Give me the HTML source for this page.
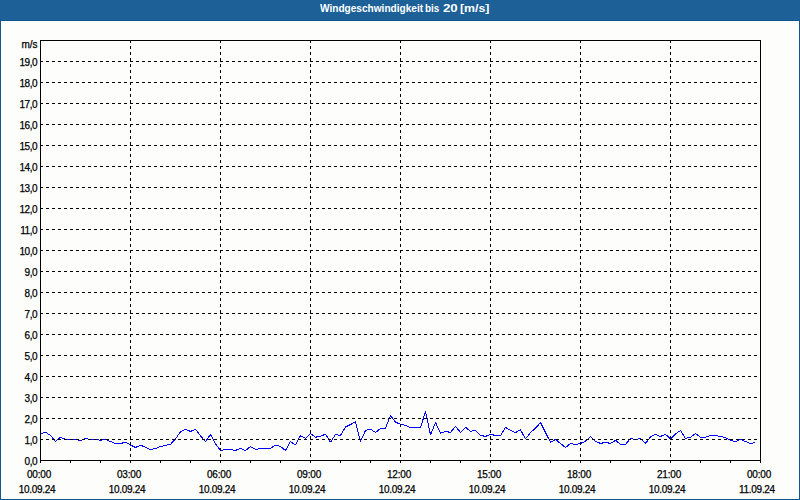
<!DOCTYPE html>
<html><head><meta charset="utf-8"><title>Windgeschwindigkeit</title>
<style>
html,body{margin:0;padding:0;}
body{width:800px;height:500px;overflow:hidden;background:#11558e;font-family:"Liberation Sans",sans-serif;position:relative;}
#hdr{position:absolute;left:0;top:0;width:800px;height:20px;background:#1d6097;}
.tw{position:absolute;top:1px;transform-origin:0 0;color:#fff;font-weight:bold;font-size:11px;line-height:14px;white-space:nowrap;}
#panel{position:absolute;left:1px;top:21px;width:798px;height:478px;background:#fdfefc;}
svg{position:absolute;left:0;top:0;}
.yl,.xl{-webkit-text-stroke:0.25px #000;}
.yl{position:absolute;left:0;width:37px;text-align:right;font-size:10px;line-height:12px;color:#000;white-space:nowrap;letter-spacing:-0.5px;}
.xl{position:absolute;width:60px;text-align:center;font-size:10px;line-height:12px;color:#000;white-space:nowrap;letter-spacing:-0.2px;}
.xd{letter-spacing:-0.3px;}
</style></head><body>
<svg width="800" height="20" viewBox="0 0 800 20" shape-rendering="crispEdges"><defs><pattern id="d" width="4" height="4" patternUnits="userSpaceOnUse"><rect width="4" height="4" fill="#1c6096"/><rect x="0" y="0" width="1" height="1" fill="#1e63a8"/><rect x="2" y="2" width="1" height="1" fill="#1e63a8"/></pattern></defs><rect width="800" height="20" fill="url(#d)"/></svg>
<div class="tw" style="left:319.5px;transform:scaleX(0.918)">Windgeschwindigkeit</div>
<div class="tw" style="left:424.8px;transform:scaleX(0.9)">bis</div>
<div class="tw" style="left:442.5px;transform:scaleX(1.2)">20</div>
<div class="tw" style="left:460px;transform:scaleX(1.12)">[m/s]</div>
<div id="panel"></div>
<svg width="800" height="500" viewBox="0 0 800 500" shape-rendering="crispEdges">
<polyline fill="none" stroke="#0000ff" stroke-width="1" stroke-linejoin="bevel" points="40.5,433.7 45.5,432.2 50.5,435.5 55.5,441.5 60.5,437.2 65.5,439.5 70.5,439.5 75.5,439.5 80.5,440.5 85.5,438.5 90.5,439.5 95.5,439.5 100.5,440.3 105.5,439.5 110.5,441.5 115.5,443.5 120.5,443.5 125.5,442.3 130.5,445.0 135.5,447.5 140.5,445.2 145.5,447.3 150.5,449.7 155.5,448.5 160.5,446.5 165.5,445.4 170.5,444.3 175.5,439.0 180.5,431.7 185.5,429.2 190.5,431.5 195.5,429.2 200.5,436.0 205.5,441.5 210.5,434.5 215.5,443.8 220.5,450.5 225.5,449.5 230.5,449.5 235.5,450.5 240.5,448.3 245.5,450.5 250.5,446.5 255.5,449.5 260.5,448.5 265.5,448.4 270.5,448.3 275.5,445.2 280.5,446.4 285.5,450.5 290.5,441.5 295.5,445.0 300.5,435.5 305.5,438.5 310.5,433.7 315.5,437.2 320.5,436.2 325.5,434.2 330.5,442.2 335.5,434.5 340.5,435.5 345.5,427.0 350.5,424.5 355.5,421.8 360.5,441.5 365.5,430.5 370.5,429.2 375.5,432.5 380.5,428.5 385.5,428.3 390.5,415.5 395.5,422.2 400.5,424.3 405.5,425.3 410.5,427.5 415.5,427.5 420.5,427.5 425.5,411.5 430.5,434.8 435.5,422.5 440.5,433.3 445.5,431.3 450.5,432.5 455.5,426.2 460.5,432.5 465.5,427.3 470.5,431.3 475.5,430.3 480.5,435.3 485.5,436.5 490.5,434.3 495.5,435.5 500.5,435.5 505.5,427.5 510.5,430.3 515.5,432.5 520.5,429.8 525.5,439.0 530.5,432.5 535.5,428.3 540.5,422.5 545.5,432.5 550.5,442.2 555.5,439.5 560.5,443.5 565.5,447.5 570.5,443.5 575.5,444.5 580.5,443.5 585.5,441.2 590.5,436.5 595.5,441.2 600.5,443.5 605.5,442.3 610.5,443.5 615.5,440.3 620.5,444.5 625.5,444.5 630.5,438.5 635.5,439.5 640.5,438.5 645.5,443.3 650.5,437.0 655.5,434.3 660.5,436.5 665.5,434.3 670.5,439.0 675.5,434.0 680.5,430.5 685.5,438.5 690.5,437.2 695.5,433.5 700.5,437.2 705.5,437.2 710.5,435.5 715.5,435.5 720.5,436.5 725.5,437.5 730.5,440.5 735.5,441.5 740.5,439.5 745.5,441.5 750.5,443.5 755.5,442.5"/>
<g stroke="#000" stroke-width="1" stroke-dasharray="3 3" fill="none">
<line x1="40" y1="61.5" x2="760" y2="61.5"/>
<line x1="40" y1="82.5" x2="760" y2="82.5"/>
<line x1="40" y1="103.5" x2="760" y2="103.5"/>
<line x1="40" y1="124.5" x2="760" y2="124.5"/>
<line x1="40" y1="145.5" x2="760" y2="145.5"/>
<line x1="40" y1="166.5" x2="760" y2="166.5"/>
<line x1="40" y1="187.5" x2="760" y2="187.5"/>
<line x1="40" y1="208.5" x2="760" y2="208.5"/>
<line x1="40" y1="229.5" x2="760" y2="229.5"/>
<line x1="40" y1="250.5" x2="760" y2="250.5"/>
<line x1="40" y1="271.5" x2="760" y2="271.5"/>
<line x1="40" y1="292.5" x2="760" y2="292.5"/>
<line x1="40" y1="313.5" x2="760" y2="313.5"/>
<line x1="40" y1="334.5" x2="760" y2="334.5"/>
<line x1="40" y1="355.5" x2="760" y2="355.5"/>
<line x1="40" y1="376.5" x2="760" y2="376.5"/>
<line x1="40" y1="397.5" x2="760" y2="397.5"/>
<line x1="40" y1="418.5" x2="760" y2="418.5"/>
<line x1="40" y1="439.5" x2="760" y2="439.5"/>
<line x1="130.5" y1="40" x2="130.5" y2="460"/>
<line x1="220.5" y1="40" x2="220.5" y2="460"/>
<line x1="310.5" y1="40" x2="310.5" y2="460"/>
<line x1="400.5" y1="40" x2="400.5" y2="460"/>
<line x1="490.5" y1="40" x2="490.5" y2="460"/>
<line x1="580.5" y1="40" x2="580.5" y2="460"/>
<line x1="670.5" y1="40" x2="670.5" y2="460"/>
</g>
<rect x="40.5" y="40.5" width="720" height="420" fill="none" stroke="#000" stroke-width="1"/>
<g fill="#000">
<rect x="40" y="461" width="1" height="2"/>
<rect x="70" y="461" width="1" height="2"/>
<rect x="100" y="461" width="1" height="2"/>
<rect x="130" y="461" width="1" height="2"/>
<rect x="160" y="461" width="1" height="2"/>
<rect x="190" y="461" width="1" height="2"/>
<rect x="220" y="461" width="1" height="2"/>
<rect x="250" y="461" width="1" height="2"/>
<rect x="280" y="461" width="1" height="2"/>
<rect x="310" y="461" width="1" height="2"/>
<rect x="340" y="461" width="1" height="2"/>
<rect x="370" y="461" width="1" height="2"/>
<rect x="400" y="461" width="1" height="2"/>
<rect x="430" y="461" width="1" height="2"/>
<rect x="460" y="461" width="1" height="2"/>
<rect x="490" y="461" width="1" height="2"/>
<rect x="520" y="461" width="1" height="2"/>
<rect x="550" y="461" width="1" height="2"/>
<rect x="580" y="461" width="1" height="2"/>
<rect x="610" y="461" width="1" height="2"/>
<rect x="640" y="461" width="1" height="2"/>
<rect x="670" y="461" width="1" height="2"/>
<rect x="700" y="461" width="1" height="2"/>
<rect x="730" y="461" width="1" height="2"/>
<rect x="760" y="461" width="1" height="2"/>
</g>
</svg>
<div class="yl" style="top:39px;letter-spacing:0;width:37.5px">m/s</div>
<div class="yl" style="top:456px">0,0</div>
<div class="yl" style="top:435px">1,0</div>
<div class="yl" style="top:414px">2,0</div>
<div class="yl" style="top:393px">3,0</div>
<div class="yl" style="top:372px">4,0</div>
<div class="yl" style="top:351px">5,0</div>
<div class="yl" style="top:330px">6,0</div>
<div class="yl" style="top:309px">7,0</div>
<div class="yl" style="top:288px">8,0</div>
<div class="yl" style="top:267px">9,0</div>
<div class="yl" style="top:246px">10,0</div>
<div class="yl" style="top:225px">11,0</div>
<div class="yl" style="top:204px">12,0</div>
<div class="yl" style="top:183px">13,0</div>
<div class="yl" style="top:162px">14,0</div>
<div class="yl" style="top:141px">15,0</div>
<div class="yl" style="top:120px">16,0</div>
<div class="yl" style="top:99px">17,0</div>
<div class="yl" style="top:78px">18,0</div>
<div class="yl" style="top:57px">19,0</div>
<div class="xl" style="left:9px;top:469px">00:00</div>
<div class="xl xd" style="left:7px;top:484px">10.09.24</div>
<div class="xl" style="left:99px;top:469px">03:00</div>
<div class="xl xd" style="left:97px;top:484px">10.09.24</div>
<div class="xl" style="left:189px;top:469px">06:00</div>
<div class="xl xd" style="left:187px;top:484px">10.09.24</div>
<div class="xl" style="left:279px;top:469px">09:00</div>
<div class="xl xd" style="left:277px;top:484px">10.09.24</div>
<div class="xl" style="left:369px;top:469px">12:00</div>
<div class="xl xd" style="left:367px;top:484px">10.09.24</div>
<div class="xl" style="left:459px;top:469px">15:00</div>
<div class="xl xd" style="left:457px;top:484px">10.09.24</div>
<div class="xl" style="left:549px;top:469px">18:00</div>
<div class="xl xd" style="left:547px;top:484px">10.09.24</div>
<div class="xl" style="left:639px;top:469px">21:00</div>
<div class="xl xd" style="left:637px;top:484px">10.09.24</div>
<div class="xl" style="left:729px;top:469px">00:00</div>
<div class="xl xd" style="left:727px;top:484px">11.09.24</div>
</body></html>
